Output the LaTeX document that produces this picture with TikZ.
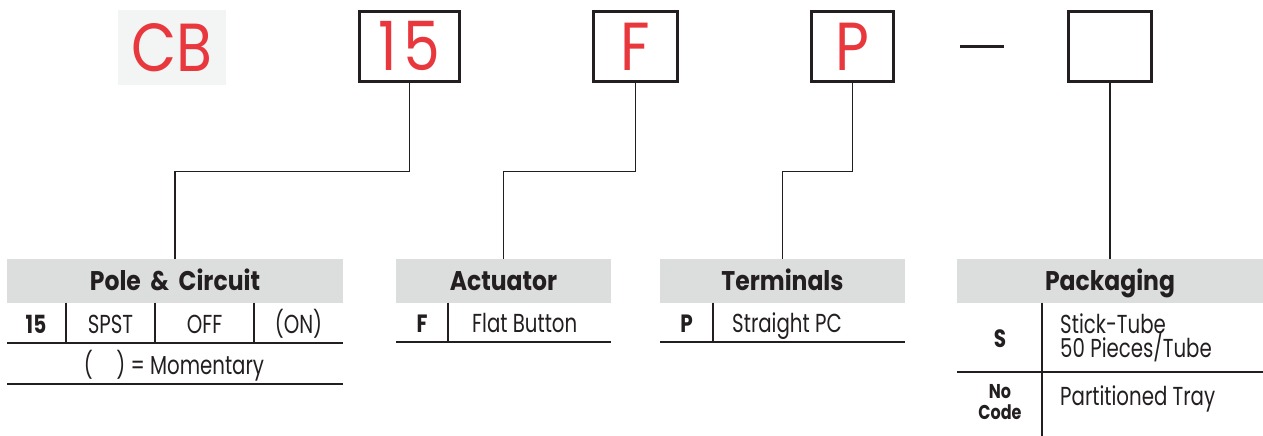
\documentclass[tikz,border=0pt]{standalone}
\usepackage{fontspec}
\setmainfont{Poppins}
\newfontfamily\bodyfont[FakeStretch=0.76]{Poppins}
\newfontfamily\labfont[FakeStretch=0.80]{Poppins}
\newfontfamily\headfont[FakeStretch=0.87]{Poppins}
\newfontfamily\redfont[FakeStretch=0.86]{Poppins}
\definecolor{ink}{HTML}{231F20}
\definecolor{codered}{HTML}{E8383D}
\definecolor{hdr}{HTML}{DCDDDD}
\definecolor{cbbg}{HTML}{F3F5F4}
\tikzset{
  codebox/.style={draw=ink, line width=3pt, inner sep=0pt, outer sep=0pt, text=codered, text height=48pt, text depth=0pt, font=\redfont\fontsize{68}{68}\selectfont},
  hdrbox/.style={fill=hdr, inner sep=0pt, outer sep=0pt, minimum height=44pt, text=ink, text height=19pt, text depth=0pt, font=\headfont\bfseries\fontsize{27}{27}\selectfont},
  conn/.style={draw=ink, line width=1.4pt},
  rule/.style={draw=ink, line width=1.2pt},
  body/.style={text=ink, inner sep=0pt, anchor=base, font=\bodyfont\fontsize{26}{24}\selectfont},
  bodyl/.style={body, anchor=base west},
  bodyb/.style={text=ink, inner sep=0pt, anchor=base, font=\labfont\bfseries\fontsize{25}{20}\selectfont},
  bodybs/.style={bodyb, font=\labfont\bfseries\fontsize{20}{20}\selectfont},
}
\begin{document}
\begin{tikzpicture}[x=1pt,y=-1pt]
\useasboundingbox (0,0) rectangle (1263,436);
% top code
\node[fill=cbbg, minimum width=108pt, minimum height=74pt, inner sep=0pt, text=codered, text height=48pt, text depth=0pt, font=\redfont\fontsize{68}{68}\selectfont] (cb) at (172,47.5) {CB};
\node[codebox, minimum width=100pt, minimum height=70pt] (b15) at (409.5,46.5) {1\kern7pt 5};
\node[codebox, minimum width=84pt, minimum height=70pt] (bF) at (635.5,46.5) {F};
\node[codebox, minimum width=82pt, minimum height=70pt] (bP) at (852.5,46.5) {P};
\node[inner sep=0pt, minimum width=44pt, minimum height=3pt] (dash) at (982,47) {};
\draw[draw=ink, line width=3pt] (dash.west) -- (dash.east);
\node[codebox, minimum width=83pt, minimum height=70pt] (bE) at (1110,46.5) {};
% headers
\node[hdrbox, minimum width=336pt] (hPole) at (175,280.5) {Pole \,\&\, Circuit};
\node[hdrbox, minimum width=215pt] (hAct) at (503.5,280.5) {Actuator};
\node[hdrbox, minimum width=245pt] (hTer) at (782.5,280.5) {Terminals};
\node[hdrbox, minimum width=306pt] (hPack) at (1110,280.5) {Packaging};
% connectors
\coordinate (lev) at (0,171.5);
\draw[conn] (b15.south) -- (b15.south |- lev) -| (hPole.north);
\draw[conn] (bF.south) -- (bF.south |- lev) -| (hAct.north);
\draw[conn] (bP.south) -- (bP.south |- lev) -| (hTer.north);
\draw[conn] (bE.south) -- (hPack.north);
% Pole & Circuit table
\draw[rule] (7,343) -- (343,343);
\draw[rule] (7,384) -- (343,384);
\draw[rule] (66,302.5) -- (66,343);
\draw[rule] (155,302.5) -- (155,343);
\draw[rule] (254,302.5) -- (254,343);
\node[bodyb] (p15) at (36,333) {15};
\node[body] (pspst) at (110.5,333) {SPST};
\node[body] (poff) at (204.5,333) {OFF};
\node[body] (pon) at (298.5,333) {(ON)};
\node[body] (pmom) at (174,374) {(\hspace{0.9em}) = Momentary};
% Actuator table
\draw[rule] (396,342) -- (611,342);
\draw[rule] (448,302.5) -- (448,342);
\node[bodyb] (aF) at (422,332) {F};
\node[bodyl] (aflat) at (472,332) {Flat Button};
% Terminals table
\draw[rule] (660,342) -- (905,342);
\draw[rule] (713,302.5) -- (713,342);
\node[bodyb] (tP) at (686.5,332) {P};
\node[bodyl] (tstr) at (732,332) {Straight PC};
% Packaging table
\draw[rule] (957,372) -- (1263,372);
\draw[rule] (1042,302.5) -- (1042,436);
\node[bodyb] (kS) at (1000,347) {S};
\node[bodyl] (kstick) at (1060,333) {Stick-Tube};
\node[bodyl] (kpieces) at (1060,357) {50 Pieces/Tube};
\node[bodybs] (kno) at (1000,398) {No};
\node[bodybs] (kcode) at (1000,419) {Code};
\node[bodyl] (ktray) at (1060,405) {Partitioned Tray};
\end{tikzpicture}
\end{document}
